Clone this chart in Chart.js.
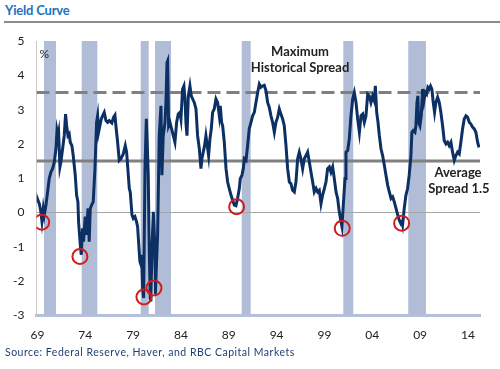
<!DOCTYPE html>
<html>
<head>
<meta charset="utf-8">
<script src="https://cdn.jsdelivr.net/npm/chart.js@4.4.1/dist/chart.umd.min.js"></script>
<style>
  html, body { margin: 0; padding: 0; background: #fff; }
  #wrap { position: relative; width: 500px; height: 369px; overflow: hidden; font-family: Lato, "Open Sans", sans-serif; }
  #title { position: absolute; left: 5px; top: 2px; font-size: 13px; font-weight: bold; color: #2470c0; letter-spacing: -0.2px; }
  #rule { position: absolute; left: 4px; right: 0; top: 21px; border-top: 2px solid #8c8c8c; }
  #source { position: absolute; left: 5px; top: 346px; font-size: 10.5px; letter-spacing: 0.5px; color: #1f3f73; }
  canvas { position: absolute; left: 0; top: 0; }
</style>
</head>
<body>
<div id="wrap">
  <div id="title">Yield Curve</div>
  <div id="rule"></div>
  <canvas id="yieldChart" width="500" height="369"></canvas>
  <div id="source">Source: Federal Reserve, Haver, and RBC Capital Markets</div>
</div>
<script>
// 10y - 3m spread (decimal years)
const spreadYears = [
  1969.00, 1969.05, 1969.20, 1969.36, 1969.47, 1969.61, 1969.71, 1969.89, 1970.06, 1970.23,
  1970.41, 1970.58, 1970.76, 1970.93, 1971.04, 1971.14, 1971.21, 1971.35, 1971.45, 1971.63,
  1971.80, 1971.94, 1972.05, 1972.19, 1972.32, 1972.43, 1972.60, 1972.74, 1972.95, 1973.09,
  1973.23, 1973.30, 1973.40, 1973.51, 1973.58, 1973.72, 1973.82, 1973.99, 1974.14, 1974.28,
  1974.41, 1974.52, 1974.66, 1974.83, 1975.01, 1975.18, 1975.29, 1975.39, 1975.53, 1975.67,
  1975.81, 1975.98, 1976.16, 1976.33, 1976.51, 1976.78, 1976.96, 1977.10, 1977.20, 1977.38,
  1977.55, 1977.73, 1977.97, 1978.18, 1978.32, 1978.60, 1978.70, 1978.88, 1979.02, 1979.19,
  1979.36, 1979.47, 1979.57, 1979.71, 1979.82, 1979.89, 1979.99, 1980.10, 1980.24, 1980.38,
  1980.48, 1980.58, 1980.69, 1980.79, 1980.86, 1980.97, 1981.11, 1981.25, 1981.32, 1981.56,
  1981.73, 1981.91, 1982.01, 1982.15, 1982.33, 1982.43, 1982.54, 1982.61, 1982.71, 1982.85,
  1983.02, 1983.20, 1983.37, 1983.55, 1983.72, 1983.89, 1984.00, 1984.17, 1984.31, 1984.42,
  1984.52, 1984.63, 1984.77, 1984.94, 1985.08, 1985.22, 1985.39, 1985.57, 1985.74, 1985.92,
  1986.09, 1986.19, 1986.33, 1986.47, 1986.61, 1986.75, 1986.89, 1987.03, 1987.17, 1987.31,
  1987.48, 1987.66, 1987.83, 1988.01, 1988.11, 1988.25, 1988.36, 1988.53, 1988.71, 1988.88,
  1989.05, 1989.23, 1989.40, 1989.58, 1989.75, 1989.92, 1990.10, 1990.20, 1990.38, 1990.52,
  1990.62, 1990.80, 1990.97, 1991.14, 1991.32, 1991.49, 1991.67, 1991.84, 1992.02, 1992.19,
  1992.36, 1992.54, 1992.71, 1992.89, 1993.06, 1993.23, 1993.41, 1993.58, 1993.76, 1993.93,
  1994.11, 1994.28, 1994.45, 1994.63, 1994.80, 1994.98, 1995.15, 1995.33, 1995.50, 1995.67,
  1995.85, 1996.02, 1996.20, 1996.37, 1996.54, 1996.72, 1996.89, 1997.07, 1997.24, 1997.42,
  1997.59, 1997.77, 1997.94, 1998.12, 1998.29, 1998.46, 1998.64, 1998.81, 1998.99, 1999.16,
  1999.33, 1999.51, 1999.68, 1999.86, 2000.03, 2000.21, 2000.38, 2000.55, 2000.73, 2000.83,
  2000.97, 2001.15, 2001.25, 2001.43, 2001.60, 2001.77, 2001.95, 2002.12, 2002.30, 2002.47,
  2002.65, 2002.82, 2003.00, 2003.17, 2003.34, 2003.52, 2003.69, 2003.86, 2004.04, 2004.21,
  2004.32, 2004.46, 2004.60, 2004.74, 2004.91, 2005.08, 2005.26, 2005.43, 2005.61, 2005.78,
  2005.96, 2006.13, 2006.30, 2006.48, 2006.64, 2006.82, 2006.99, 2007.10, 2007.17, 2007.34,
  2007.52, 2007.69, 2007.86, 2008.04, 2008.14, 2008.28, 2008.46, 2008.56, 2008.67, 2008.77,
  2008.84, 2008.98, 2009.12, 2009.26, 2009.40, 2009.54, 2009.68, 2009.81, 2009.95, 2010.09,
  2010.23, 2010.37, 2010.51, 2010.65, 2010.83, 2011.00, 2011.17, 2011.35, 2011.52, 2011.70,
  2011.87, 2012.04, 2012.22, 2012.39, 2012.57, 2012.74, 2012.92, 2013.09, 2013.26, 2013.44,
  2013.61, 2013.79, 2013.96, 2014.14, 2014.31, 2014.48, 2014.66, 2014.83, 2015.01, 2015.11,
  2015.18
];
const spreadValues = [
  0.30, 0.36, 0.25, 0.02, -0.25, 0.12, -0.07, 0.22, 0.60, 0.99,
  1.18, 1.28, 1.47, 1.86, 2.39, 2.24, 2.34, 1.33, 1.47, 1.86,
  2.24, 2.87, 2.53, 2.24, 2.29, 2.05, 1.95, 1.66, 1.09, 0.51,
  0.31, -0.27, -0.65, -1.04, -1.23, -0.46, -0.85, -0.12, -0.65, 0.12,
  -0.85, 0.12, 0.22, 0.31, 1.28, 2.63, 2.82, 2.34, 2.53, 2.73,
  2.82, 2.92, 2.68, 2.63, 2.68, 2.61, 2.78, 2.84, 2.53, 2.05,
  1.52, 1.57, 1.71, 1.95, 1.76, 0.70, 0.60, -0.07, -0.17, -0.12,
  -0.27, -0.41, -0.85, -1.43, -1.52, -1.23, -2.20, -2.49, 1.28, 2.73,
  1.95, 1.09, -1.14, -2.49, -2.59, -1.04, 0.02, -0.85, -2.39, -0.65,
  2.24, 3.11, 1.09, 2.24, 2.63, 3.21, 4.37, 4.42, 2.53, 2.63,
  2.44, 2.24, 2.05, 2.63, 2.87, 2.92, 2.73, 3.60, 3.69, 3.31,
  2.63, 2.24, 3.40, 3.69, 3.40, 3.31, 3.21, 3.02, 2.24, 1.86,
  1.28, 1.57, 1.76, 1.95, 2.24, 1.95, 1.66, 2.15, 2.44, 2.92,
  3.02, 3.31, 3.21, 2.82, 3.11, 2.63, 2.53, 2.05, 1.28, 0.89,
  0.70, 0.51, 0.36, 0.22, 0.20, 0.41, 0.70, 0.99, 1.09, 1.28,
  1.57, 1.52, 1.95, 2.44, 2.63, 2.82, 2.92, 3.21, 3.50, 3.74,
  3.65, 3.69, 3.71, 3.55, 3.21, 3.07, 2.82, 2.63, 2.34, 2.63,
  2.78, 3.02, 2.87, 2.73, 2.53, 1.95, 1.28, 0.89, 0.84, 0.65,
  0.60, 0.89, 1.57, 1.76, 1.57, 1.28, 1.57, 1.66, 1.76, 1.47,
  1.18, 0.89, 0.60, 0.70, 0.60, 0.65, 0.26, 0.51, 0.70, 0.89,
  1.28, 1.33, 1.18, 1.33, 0.99, 0.60, 0.41, 0.02, -0.27, -0.41,
  0.22, 0.99, 1.76, 1.81, 2.15, 2.82, 3.31, 3.50, 3.21, 2.73,
  2.34, 2.82, 2.87, 2.63, 2.82, 3.45, 3.40, 3.21, 3.40, 3.26,
  3.69, 2.92, 2.63, 2.24, 1.86, 1.66, 1.38, 1.09, 0.80, 0.60,
  0.41, 0.46, 0.31, 0.12, -0.05, -0.22, -0.32, -0.27, -0.36, 0.12,
  0.51, 0.70, 1.09, 1.66, 2.34, 2.39, 2.34, 2.53, 3.21, 3.40,
  2.63, 2.53, 2.82, 3.60, 3.26, 3.50, 3.45, 3.65, 3.60, 3.69,
  3.60, 3.21, 2.92, 3.21, 3.36, 3.21, 2.92, 2.53, 2.10, 2.00,
  2.05, 1.95, 2.05, 1.76, 1.52, 1.66, 1.76, 1.71, 2.05, 2.44,
  2.73, 2.82, 2.78, 2.63, 2.58, 2.49, 2.44, 2.34, 2.05, 1.95,
  1.90
];

// shaded recessions
const recessionStart = [1969.68, 1973.62, 1979.79, 1981.29, 1990.35, 2000.97, 2007.76];
const recessionEnd   = [1970.94, 1975.26, 1980.63, 1982.96, 1991.29, 2002.01, 2009.61];

// circled troughs
const troughYears  = [1969.44, 1973.44, 1980.13, 1981.18, 1989.82, 2000.86, 2007.07];
const troughValues = [-0.28, -1.28, -2.46, -2.20, 0.17, -0.46, -0.31];

const maxSpread = 3.5;
const avgSpread = 1.5;
const tickYears = [1969, 1974, 1979, 1984, 1989, 1994, 1999, 2004, 2009, 2014];

const xMin = 1968.9;
const xMax = 2015.26;
const FONT = 'Lato, "Open Sans", sans-serif';

const recessionPlugin = {
    id: 'recessions',
    beforeDraw(chart) {
        const { ctx, chartArea, scales } = chart;
        ctx.save();
        ctx.fillStyle = '#b1bdd7';
        recessionStart.forEach((s, i) => {
            const x0 = scales.x.getPixelForValue(s);
            const x1 = scales.x.getPixelForValue(recessionEnd[i]);
            ctx.fillRect(x0, chartArea.top, x1 - x0, chartArea.bottom - chartArea.top);
        });
        ctx.restore();
    }
};

const labelPlugin = {
    id: 'labels',
    afterDraw(chart) {
        const { ctx, chartArea } = chart;
        ctx.save();
        ctx.fillStyle = '#222';
        ctx.font = '12px ' + FONT;
        ctx.textAlign = 'left';
        ctx.textBaseline = 'middle';
        ctx.fillText('%', chartArea.left + 3, 54);

        ctx.font = 'bold 13px ' + FONT;
        ctx.textAlign = 'center';
        ctx.fillText('Maximum', 300, 52);
        ctx.fillText('Historical Spread', 300, 68);
        ctx.fillText('Average', 458, 173);
        ctx.fillText('Spread 1.5', 459, 189);
        ctx.restore();
    }
};

const ctx = document.getElementById('yieldChart').getContext('2d');
new Chart(ctx, {
    type: 'line',
    data: {
        datasets: [
            {
                type: 'scatter',
                data: troughYears.map((x, i) => ({ x: x, y: troughValues[i] })),
                showLine: false,
                pointRadius: 7.5,
                pointBorderWidth: 2,
                pointBorderColor: '#d41a1a',
                pointBackgroundColor: 'rgba(0,0,0,0)',
                order: 0
            },
            {
                data: spreadYears.map((x, i) => ({ x: x, y: spreadValues[i] })),
                borderColor: '#0c3064',
                borderWidth: 3,
                pointRadius: 0,
                tension: 0,
                order: 1
            },
            {
                data: [{ x: xMin, y: maxSpread }, { x: xMax, y: maxSpread }],
                borderColor: '#808080',
                borderWidth: 3,
                borderDash: [13, 6],
                pointRadius: 0,
                order: 2
            },
            {
                data: [{ x: xMin, y: avgSpread }, { x: xMax, y: avgSpread }],
                borderColor: '#808080',
                borderWidth: 3,
                pointRadius: 0,
                order: 3
            }
        ]
    },
    options: {
        responsive: false,
        animation: false,
        layout: { padding: { top: 41, right: 20, left: 0, bottom: 23.5 } },
        plugins: {
            legend: { display: false },
            tooltip: { enabled: false }
        },
        scales: {
            x: {
                type: 'linear',
                min: xMin,
                max: xMax,
                afterBuildTicks: (scale) => { scale.ticks = tickYears.map(v => ({ value: v })); },
                afterFit: (scale) => { scale.height = 30; },
                grid: { display: false },
                border: { display: true, color: '#b4c0d9', width: 3 },
                ticks: {
                    padding: 4,
                    maxRotation: 0,
                    autoSkip: false,
                    color: '#222',
                    font: { family: FONT, size: 12 },
                    callback: (v) => String(v % 100).padStart(2, '0')
                }
            },
            y: {
                min: -3,
                max: 5,
                afterFit: (scale) => { scale.width = 36.5; },
                grid: {
                    drawTicks: false,
                    color: (c) => c.tick && c.tick.value === 0 ? '#a6a6a6' : 'rgba(0,0,0,0)',
                    lineWidth: 1
                },
                border: { display: true, color: '#c8c8c8', width: 1 },
                ticks: {
                    stepSize: 1,
                    padding: 12,
                    color: '#222',
                    font: { family: FONT, size: 12 }
                }
            }
        }
    },
    plugins: [recessionPlugin, labelPlugin]
});
</script>
</body>
</html>
